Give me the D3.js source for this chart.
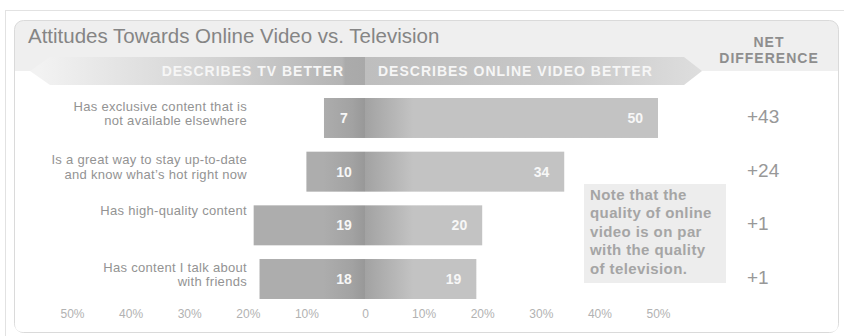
<!DOCTYPE html>
<html>
<head>
<meta charset="utf-8">
<script src="https://cdn.jsdelivr.net/npm/d3@7"></script>
<style>
  html, body { margin: 0; padding: 0; background: #ffffff; }
  svg { display: block; font-family: "Liberation Sans", Arial, sans-serif; }
</style>
</head>
<body>
<svg id="chart" width="844" height="336"></svg>
<script>
// Survey: which medium each statement describes better (% of respondents)
const categories = [
  ["Has exclusive content that is", "not available elsewhere"],
  ["Is a great way to stay up-to-date", "and know what\u2019s hot right now"],
  ["Has high-quality content"],
  ["Has content I talk about", "with friends"]
];
const tvValues = [7, 10, 19, 18];
const onlineValues = [50, 34, 20, 19];
const netDifference = ["+43", "+24", "+1", "+1"];
const tickValues = [-50, -40, -30, -20, -10, 0, 10, 20, 30, 40, 50];
const tickLabels = ["50%", "40%", "30%", "20%", "10%", "0", "10%", "20%", "30%", "40%", "50%"];
const noteLines = ["Note that the", "quality of online", "video is on par", "with the quality", "of television."];

const svg = d3.select("#chart");
const W = 844, H = 336;

const x = d3.scaleLinear().domain([-50, 50]).range([72, 658]);
const y = d3.scaleBand().domain(d3.range(categories.length))
  .range([98, 299]).paddingInner(0.255).paddingOuter(0);
const x0 = x(0);

// ---- gradients ----
const defs = svg.append("defs");
function grad(id, x1, x2, stops) {
  const g = defs.append("linearGradient").attr("id", id)
    .attr("gradientUnits", "userSpaceOnUse")
    .attr("x1", x1).attr("x2", x2).attr("y1", 0).attr("y2", 0);
  stops.forEach(s => g.append("stop").attr("offset", s[0]).attr("stop-color", s[1]));
}
grad("tvBar", x0 - 42, x0, [[0, "#adadad"], [0.7, "#a2a2a2"], [1, "#989898"]]);
grad("onBar", x0, x0 + 48, [[0, "#a2a2a2"], [1, "#c3c3c3"]]);
grad("tvBanner", 40, x0, [[0, "#f2f2f2"], [0.55, "#d2d2d2"], [0.93, "#b4b4b4"], [0.94, "#ababab"], [1, "#a9a9a9"]]);
grad("onBanner", x0, 702, [[0, "#bebebe"], [0.6, "#c8c8c8"], [1, "#dedede"]]);

// ---- frame ----
svg.append("line").attr("x1", 5).attr("x2", W).attr("y1", 10.5).attr("y2", 10.5)
  .attr("stroke", "#e2e2e2");
svg.append("line").attr("x1", 5.5).attr("x2", 5.5).attr("y1", 10).attr("y2", H)
  .attr("stroke", "#e2e2e2");

// panel with grey header
svg.append("rect").attr("x", 14.5).attr("y", 20.5).attr("width", 824).attr("height", 312)
  .attr("rx", 9).attr("fill", "#efefef").attr("stroke", "#dadada");

// white body (square top, rounded bottom)
const bx0 = 15, bx1 = 838, by0 = 71, by1 = 332, r = 8;
svg.append("path")
  .attr("d", `M${bx0},${by0} H${bx1} V${by1 - r} Q${bx1},${by1} ${bx1 - r},${by1} H${bx0 + r} Q${bx0},${by1} ${bx0},${by1 - r} Z`)
  .attr("fill", "#ffffff");

// title
svg.append("text").attr("x", 28).attr("y", 43)
  .attr("font-size", 20.5).attr("fill", "#858585")
  .text("Attitudes Towards Online Video vs. Television");

// direction banner
svg.append("path")
  .attr("d", `M30,71 L50,57 H${x0} V85 H50 Z`)
  .attr("fill", "url(#tvBanner)");
svg.append("path")
  .attr("d", `M${x0},57 H684 L702,71 L684,85 H${x0} Z`)
  .attr("fill", "url(#onBanner)");
svg.append("text").attr("x", 344).attr("y", 76).attr("text-anchor", "end")
  .attr("font-size", 14).attr("font-weight", "bold").attr("letter-spacing", 1)
  .attr("fill", "#f6f6f6").text("DESCRIBES TV BETTER");
svg.append("text").attr("x", 378).attr("y", 76)
  .attr("font-size", 14).attr("font-weight", "bold").attr("letter-spacing", 1)
  .attr("fill", "#f6f6f6").text("DESCRIBES ONLINE VIDEO BETTER");

// net difference header
svg.append("text").attr("x", 769).attr("y", 47).attr("text-anchor", "middle")
  .attr("font-size", 14).attr("font-weight", "bold").attr("letter-spacing", 1)
  .attr("fill", "#8e8e8e")
  .selectAll("tspan").data(["NET", "DIFFERENCE"]).join("tspan")
  .attr("x", 769).attr("dy", (d, i) => i ? 16 : 0).text(d => d);

// ---- bars ----
const rows = svg.append("g").selectAll("g").data(categories).join("g");

rows.append("rect")
  .attr("x", (d, i) => x(-tvValues[i])).attr("y", (d, i) => y(i))
  .attr("width", (d, i) => x0 - x(-tvValues[i])).attr("height", y.bandwidth())
  .attr("fill", "url(#tvBar)");
rows.append("rect")
  .attr("x", x0).attr("y", (d, i) => y(i))
  .attr("width", (d, i) => x(onlineValues[i]) - x0).attr("height", y.bandwidth())
  .attr("fill", "url(#onBar)");

// value labels
rows.append("text")
  .attr("x", x0 - 21).attr("y", (d, i) => y(i) + y.bandwidth() / 2 + 5)
  .attr("text-anchor", "middle").attr("font-size", 14).attr("font-weight", "bold")
  .attr("fill", "#f7f7f7").text((d, i) => tvValues[i]);
rows.append("text")
  .attr("x", (d, i) => x(onlineValues[i]) - 15).attr("y", (d, i) => y(i) + y.bandwidth() / 2 + 5)
  .attr("text-anchor", "end").attr("font-size", 14).attr("font-weight", "bold")
  .attr("fill", "#f7f7f7").text((d, i) => onlineValues[i]);

// category labels
rows.append("text")
  .attr("text-anchor", "end").attr("font-size", 13).attr("letter-spacing", 0.3)
  .attr("fill", "#939393")
  .each(function (lines, i) {
    const top = y(i) + (lines.length > 1 ? 12.5 : 9.5);
    d3.select(this).selectAll("tspan").data(lines).join("tspan")
      .attr("x", 247).attr("y", (l, j) => top + j * 14.5).text(l => l);
  });

// net difference values
rows.append("text")
  .attr("x", 747).attr("y", (d, i) => y(i) + y.bandwidth() / 2 + 5)
  .attr("font-size", 19).attr("fill", "#989898")
  .text((d, i) => netDifference[i]);

// ---- note ----
svg.append("rect").attr("x", 584).attr("y", 184).attr("width", 142).attr("height", 99)
  .attr("fill", "#ededed");
svg.append("text").attr("font-size", 15).attr("font-weight", "bold").attr("letter-spacing", 0.4)
  .attr("fill", "#a5a5a5")
  .selectAll("tspan").data(noteLines).join("tspan")
  .attr("x", 590).attr("y", (d, i) => 200 + i * 18.4).text(d => d);

// ---- axis ----
const axis = d3.axisBottom(x).tickValues(tickValues)
  .tickFormat((d, i) => tickLabels[i]).tickSize(0).tickPadding(0);
const ag = svg.append("g").attr("transform", "translate(0,309)").call(axis);
ag.select(".domain").remove();
ag.selectAll("text").attr("font-size", 12).attr("fill", "#b2b2b2")
  .attr("font-family", "'Liberation Sans', Arial, sans-serif");
</script>
</body>
</html>
